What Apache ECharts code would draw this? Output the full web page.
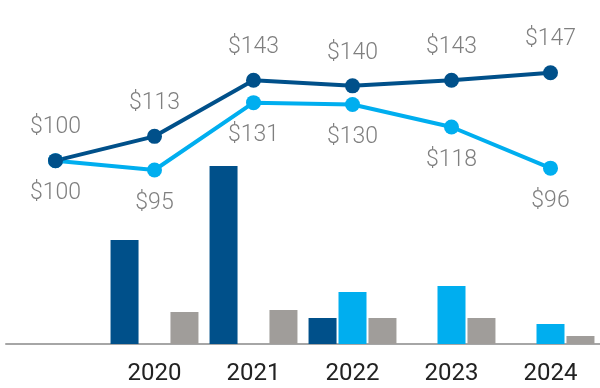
<!DOCTYPE html>
<html><head><meta charset="utf-8">
<script src="https://cdn.jsdelivr.net/npm/echarts@6/dist/echarts.min.js"></script>
<style>html,body{margin:0;padding:0;background:#fff}#c{width:600px;height:388px}</style>
</head><body><div id="c"></div>
<script>
const categories = ['', '2020', '2021', '2022', '2023', '2024'];
const lineDark = [100, 113, 143, 140, 143, 147];
const lineLight = [100, 95, 131, 130, 118, 96];
const barDark = [0, 104, 178, 26, 0, 0];
const barLight = [0, 0, 0, 52, 58, 20];
const barGray = [0, 32, 34, 26, 26, 8];

const DARK = '#00508a', LIGHT = '#00aeef', GRAY = '#a09d9a';
const chart = echarts.init(document.getElementById('c'));
const lbl = {fontFamily: 'Roboto', fontWeight: 300, fontSize: 23, color: '#7f7f7f'};
chart.setOption({
  animation: false,
  grid: {left: 6, right: 0, top: 11, bottom: 44},
  xAxis: {
    type: 'category', data: categories, boundaryGap: true,
    axisLine: {lineStyle: {color: '#a6a6a6', width: 2}},
    axisTick: {show: false},
    axisLabel: {fontFamily: 'Roboto', fontSize: 24, color: '#222', margin: 18}
  },
  yAxis: [
    {type: 'value', min: 0, max: 333, show: false, splitLine: {show: false}},
    {type: 'value', min: 2, max: 180, show: false, splitLine: {show: false}}
  ],
  series: [
    {type: 'bar', data: barDark, yAxisIndex: 0, barWidth: 28, barGap: '7%', itemStyle: {color: DARK}},
    {type: 'bar', data: barLight, yAxisIndex: 0, barWidth: 28, barGap: '7%', itemStyle: {color: LIGHT}},
    {type: 'bar', data: barGray, yAxisIndex: 0, barWidth: 28, barGap: '7%', itemStyle: {color: GRAY}},
    {type: 'line', data: lineLight, yAxisIndex: 1, symbol: 'circle', symbolSize: 15,
     lineStyle: {color: LIGHT, width: 4}, itemStyle: {color: LIGHT},
     label: Object.assign({show: true, position: 'bottom', distance: 14, formatter: p => '$' + p.value}, lbl)},
    {type: 'line', data: lineDark, yAxisIndex: 1, symbol: 'circle', symbolSize: 15,
     lineStyle: {color: DARK, width: 4}, itemStyle: {color: DARK},
     label: Object.assign({show: true, position: 'top', distance: 14, formatter: p => '$' + p.value}, lbl)}
  ]
});
</script></body></html>
